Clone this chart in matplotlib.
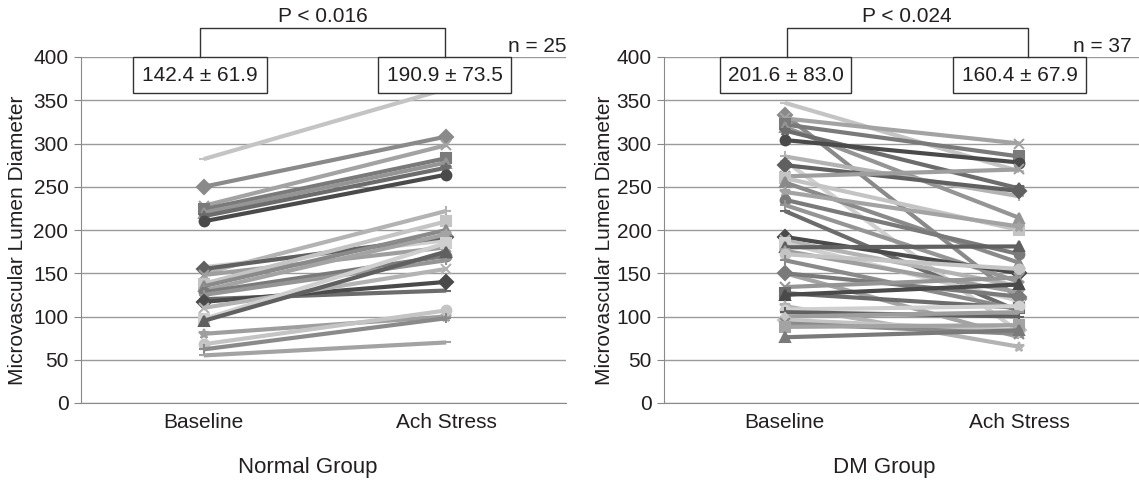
import numpy as np
import matplotlib
matplotlib.use("Agg")
import matplotlib.pyplot as plt
from matplotlib.patches import Rectangle

plt.rcParams["font.family"] = ["Liberation Sans", "DejaVu Sans"]

categories = ["Baseline", "Ach Stress"]

# Normal group, n = 25 (baseline, ach stress)
normal_base = [282, 250, 228, 224, 220, 216, 210,
               150, 157, 155, 148, 138, 135, 130, 128, 125, 120, 117, 110,
               97, 95, 80, 68, 62, 55]
normal_ach = [363, 308, 298, 283, 278, 272, 264,
              222, 188, 192, 180, 210, 200, 195, 170, 165, 130, 140, 155,
              185, 175, 100, 107, 98, 70]

# DM group, n = 37
dm_base = [347, 333, 329, 322, 319, 315, 304, 285, 280, 275, 262, 260, 255,
           244, 235, 229, 222, 192, 188, 185, 180, 176, 172, 165, 150, 150,
           134, 127, 125, 112, 108, 105, 100, 96, 92, 88, 76]
dm_ach = [268, 120, 300, 285, 214, 248, 278, 239, 82, 245, 270, 200, 162,
          204, 172, 140, 106, 150, 135, 118, 181, 128, 155, 108, 76, 123,
          145, 110, 137, 65, 112, 100, 105, 84, 80, 90, 84]

normal_stats = ["142.4 ± 61.9", "190.9 ± 73.5"]
dm_stats = ["201.6 ± 83.0", "160.4 ± 67.9"]

greys = ["#c4c4c4", "#8a8a8a", "#a3a3a3", "#7a7a7a", "#959595", "#6c6c6c",
         "#4a4a4a", "#b3b3b3", "#cfcfcf", "#606060", "#9e9e9e"]
markers = ["_", "D", "x", "s", "^", "*", "o", "+"]

txt = "#231f20"
W, H = 1139, 488
fig = plt.figure(figsize=(W / 100, H / 100), dpi=100)

def px(x0, y0, x1, y1):
    return [x0 / W, 1 - y1 / H, (x1 - x0) / W, (y1 - y0) / H]

def panel(rect, xlim, base, ach, stats, boxes, bracket, ptext, n_text, n_x):
    ax = fig.add_axes(rect)
    ax.set_xlim(*xlim)
    ax.set_ylim(0, 400)
    ax.set_yticks(np.arange(0, 401, 50))
    ax.set_xticks([0, 1])
    ax.set_xticklabels(categories, fontsize=15, color=txt)
    ax.tick_params(axis="x", length=0, pad=7)
    ax.tick_params(axis="y", length=5, color="#888888", labelsize=15,
                   labelcolor=txt, pad=4)
    ax.grid(axis="y", color="#9a9a9a", lw=1)
    ax.set_axisbelow(True)
    for s in ["top", "right"]:
        ax.spines[s].set_visible(False)
    for s in ["left", "bottom"]:
        ax.spines[s].set_color("#8a8a8a")
    for i, (b, a) in enumerate(zip(base, ach)):
        c = greys[i % len(greys)]
        ax.plot([0, 1], [b, a], color=c, lw=3, marker=markers[i % len(markers)],
                ms=7, mew=1.5, mec=c, mfc=c, solid_capstyle="butt")
    for (x0, x1), s in zip(boxes, stats):
        ax.add_patch(Rectangle((x0, 358), x1 - x0, 42, fill=True, fc="white",
                               ec="#333333", lw=1, clip_on=False, zorder=5))
        ax.text((x0 + x1) / 2, 379, s, ha="center", va="center", fontsize=15,
                color=txt, zorder=6)
    bx0, bx1 = bracket
    ax.plot([bx0, bx0, bx1, bx1], [400, 433.5, 433.5, 400], color="#333333",
            lw=1, clip_on=False, zorder=5)
    ax.text((bx0 + bx1) / 2, 447, ptext, ha="center", va="center", fontsize=15,
            color=txt)
    ax.text(n_x, 401.5, n_text, ha="right", va="bottom", fontsize=15, color=txt)
    return ax

panel(px(81, 57, 566, 403), (-0.506, 1.494), normal_base, normal_ach,
      normal_stats, [(-0.29, 0.26), (0.72, 1.267)], (-0.016, 0.996),
      "P < 0.016", "n = 25", 1.494)
panel(px(664, 57, 1139, 403), (-0.515, 1.51), dm_base, dm_ach,
      dm_stats, [(-0.277, 0.283), (0.718, 1.284)], (0.008, 1.035),
      "P < 0.024", "n = 37", 1.477)

fig.text(18 / W, 1 - 240 / H, "Microvascular Lumen Diameter", rotation=90,
         ha="center", va="center", fontsize=15, color=txt)
fig.text(605 / W, 1 - 240 / H, "Microvascular Lumen Diameter", rotation=90,
         ha="center", va="center", fontsize=15, color=txt)
fig.text(308 / W, 1 - 468 / H, "Normal Group", ha="center", va="center",
         fontsize=16, color=txt)
fig.text(884 / W, 1 - 468 / H, "DM Group", ha="center", va="center",
         fontsize=16, color=txt)

fig.savefig("out.png", dpi=100)
